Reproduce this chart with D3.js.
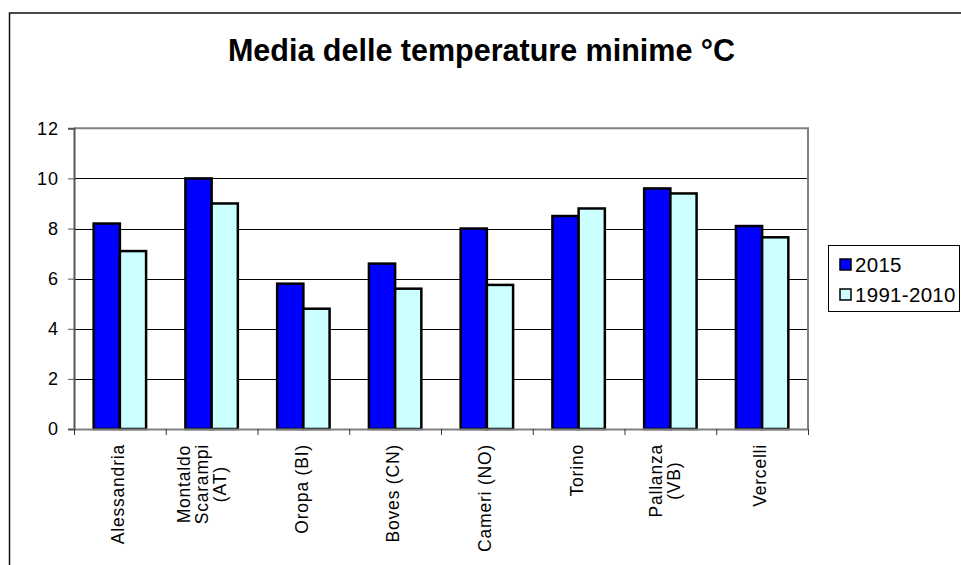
<!DOCTYPE html>
<html>
<head>
<meta charset="utf-8">
<script src="https://cdn.jsdelivr.net/npm/d3@7/dist/d3.min.js"></script>
<style>
  html, body { margin: 0; padding: 0; background: #fff; }
  svg { display: block; font-family: Arial, "Liberation Sans", sans-serif; }
</style>
</head>
<body>
<svg id="chart" width="961" height="565"></svg>
<script>
// Stations (multi-line labels split on "\n")
const stations = [
  "Alessandria",
  "Montaldo\nScarampi\n(AT)",
  "Oropa (BI)",
  "Boves (CN)",
  "Cameri (NO)",
  "Torino",
  "Pallanza\n(VB)",
  "Vercelli"
];
const seriesNames = ["2015", "1991-2010"];
const values2015 = [8.2, 10.0, 5.8, 6.6, 8.0, 8.5, 9.6, 8.1];
const values19912010 = [7.1, 9.0, 4.8, 5.6, 5.75, 8.8, 9.4, 7.65];
const yTicks = [0, 2, 4, 6, 8, 10, 12];
const titleText = "Media delle temperature minime °C";

const seriesValues = [values2015, values19912010];
const colors = ["#0000FF", "#CCFFFF"];

const svg = d3.select("#chart");

// Outer chart frame (runs off the right and bottom edges)
svg.append("rect")
  .attr("x", 9.5).attr("y", 13)
  .attr("width", 1000).attr("height", 600)
  .attr("fill", "none").attr("stroke", "#111").attr("stroke-width", 1.5);

// Plot area
const plot = { left: 74, right: 808, top: 128.3, bottom: 429 };

const x = d3.scaleBand()
  .domain(d3.range(stations.length))
  .range([plot.left, plot.right])
  .padding(0);

const xs = d3.scaleBand()
  .domain(d3.range(seriesNames.length))
  .range([0, x.bandwidth()])
  .paddingInner(0)
  .paddingOuter(0.75);

const y = d3.scaleLinear().domain([0, 12]).range([plot.bottom, plot.top]);

// Gridlines
svg.append("g")
  .selectAll("line")
  .data(yTicks.filter(d => d > 0 && d < 12))
  .join("line")
  .attr("x1", plot.left).attr("x2", plot.right)
  .attr("y1", d => Math.round(y(d)) + 0.5).attr("y2", d => Math.round(y(d)) + 0.5)
  .attr("stroke", "#000").attr("stroke-width", 1);

// Plot border (top and right)
svg.append("path")
  .attr("d", `M${plot.left},${plot.top}H${plot.right}V${plot.bottom}`)
  .attr("fill", "none").attr("stroke", "#808080").attr("stroke-width", 2);

// Bars
const groups = svg.append("g")
  .selectAll("g")
  .data(stations.map((s, i) => i))
  .join("g")
  .attr("transform", i => `translate(${x(i)},0)`);

groups.selectAll("rect")
  .data(i => seriesValues.map((vals, k) => ({ k, v: vals[i] })))
  .join("rect")
  .attr("x", d => xs(d.k))
  .attr("width", xs.bandwidth())
  .attr("y", d => y(d.v))
  .attr("height", d => y(0) - y(d.v))
  .attr("fill", d => colors[d.k])
  .attr("stroke", "#000")
  .attr("stroke-width", 2.5);

// Y axis
const yAxis = svg.append("g")
  .attr("transform", `translate(${plot.left},0)`)
  .call(d3.axisLeft(y).tickValues(yTicks).tickSize(6).tickPadding(9).tickFormat(d3.format("d")));
yAxis.select(".domain").attr("stroke", "#555").attr("stroke-width", 2);
yAxis.selectAll(".tick line").attr("stroke", "#555").attr("stroke-width", 1);
yAxis.selectAll("text")
  .attr("font-size", 18).attr("letter-spacing", "1px").attr("fill", "#000")
  .attr("font-family", "Arial, 'Liberation Sans', sans-serif");

// X axis: ticks on category boundaries
const xb = d3.scaleLinear().domain([0, stations.length]).range([plot.left, plot.right]);
const xAxis = svg.append("g")
  .attr("transform", `translate(0,${plot.bottom})`)
  .call(d3.axisBottom(xb).tickValues(d3.range(stations.length + 1)).tickSize(6).tickSizeOuter(0).tickFormat(""));
xAxis.select(".domain").attr("stroke", "#808080").attr("stroke-width", 2);
xAxis.selectAll(".tick line").attr("stroke", "#333").attr("stroke-width", 1);

// Category labels, rotated, lines centred within each block
const fontX = 17.5, spacingX = 0.8, lineH = 18, labelTop = 444;
const measure = svg.append("text")
  .attr("font-size", fontX).attr("letter-spacing", spacingX + "px")
  .attr("visibility", "hidden");
function textLen(s) { measure.text(s); return measure.node().getComputedTextLength(); }

const labels = svg.append("g");
stations.forEach((name, i) => {
  const lines = name.split("\n");
  const n = lines.length;
  const blockLen = d3.max(lines, textLen);
  const cx = x(i) + x.bandwidth() / 2 - 2 - 4 * (n - 1);
  const g = labels.append("g").attr("transform", `translate(${cx},${labelTop}) rotate(-90)`);
  lines.forEach((ln, k) => {
    g.append("text")
      .attr("x", -blockLen / 2)
      .attr("y", (k - (n - 1) / 2) * lineH)
      .attr("dy", "0.35em")
      .attr("text-anchor", "middle")
      .attr("font-size", fontX)
      .attr("letter-spacing", spacingX + "px")
      .attr("fill", "#000")
      .text(ln);
  });
});
measure.remove();

// Title
svg.append("text")
  .attr("x", 481.5).attr("y", 61)
  .attr("text-anchor", "middle")
  .attr("font-size", 30.5).attr("font-weight", "bold")
  .attr("fill", "#000")
  .text(titleText);

// Legend
const legend = svg.append("g");
legend.append("rect")
  .attr("x", 828.5).attr("y", 245.5).attr("width", 131).attr("height", 66)
  .attr("fill", "#fff").attr("stroke", "#000").attr("stroke-width", 1);
const legendRows = [272, 302];
seriesNames.forEach((name, k) => {
  legend.append("rect")
    .attr("x", 840).attr("y", legendRows[k] - 13)
    .attr("width", 11).attr("height", 11)
    .attr("fill", colors[k]).attr("stroke", "#000").attr("stroke-width", 1.5);
  legend.append("text")
    .attr("x", 855).attr("y", legendRows[k])
    .attr("font-size", 20.5).attr("letter-spacing", "0.3px").attr("fill", "#000")
    .text(name);
});
</script>
</body>
</html>
